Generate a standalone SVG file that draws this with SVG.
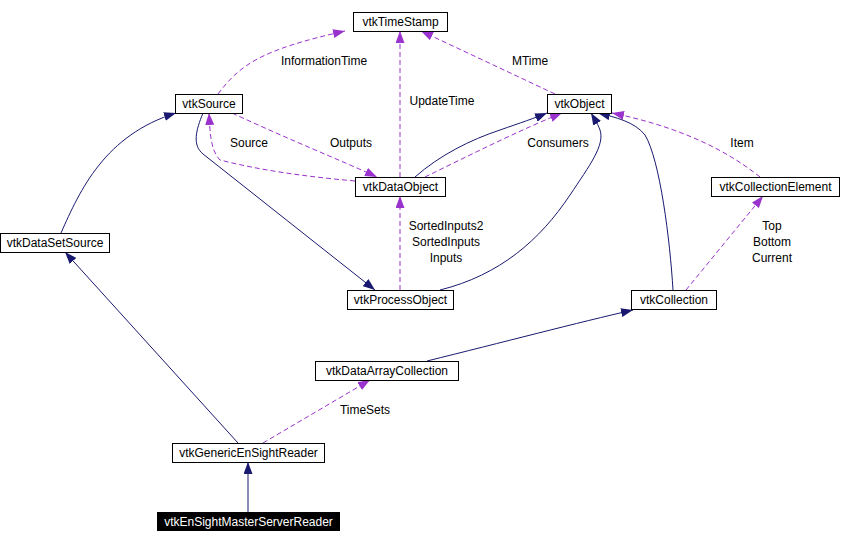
<svg xmlns="http://www.w3.org/2000/svg" width="844" height="544" viewBox="0 0 844 544">
<style>
.box{fill:#fff;stroke:#000;stroke-width:1}
.t{font-family:"Liberation Sans",Arial,sans-serif;font-size:12px;fill:#000;text-anchor:middle}
.inh{fill:none;stroke:#191970;stroke-width:1}
.use{fill:none;stroke:#9a32cd;stroke-width:1;stroke-dasharray:5,3}
.lbl{font-family:"Liberation Sans",Arial,sans-serif;font-size:12px;fill:#000;text-anchor:middle}
</style>
<defs>
<marker id="mi" viewBox="0 0 12 9" refX="12" refY="4.5" markerWidth="12" markerHeight="9" markerUnits="userSpaceOnUse" orient="auto">
<path d="M0,0 L12,4.5 L0,9 z" fill="#191970"/>
</marker>
<marker id="mu" viewBox="0 0 12 9" refX="12" refY="4.5" markerWidth="12" markerHeight="9" markerUnits="userSpaceOnUse" orient="auto">
<path d="M0,0 L12,4.5 L0,9 z" fill="#9a32cd"/>
</marker>
</defs>
<rect width="844" height="544" fill="#fff"/>
<g id="edges">
<path class="use" marker-end="url(#mu)" d="M218,94 C240,65 260,50 345,31"/>
<path class="use" marker-end="url(#mu)" d="M400,177 L400,31"/>
<path class="use" marker-end="url(#mu)" d="M555,94 L421,31"/>
<path class="use" marker-end="url(#mu)" d="M355,181 C300,176 260,170 220,160 C210,150 210,130 209,113"/>
<path class="use" marker-end="url(#mu)" d="M232,113 C290,140 340,160 377,177"/>
<path class="inh" marker-end="url(#mi)" d="M415,177 C440,155 470,140 500,130 C520,123 535,118 547,113"/>
<path class="use" marker-end="url(#mu)" d="M425,177 C470,155 520,130 562,113"/>
<path class="inh" marker-end="url(#mi)" d="M440,290 C500,275 540,240 570,195 C590,165 605,145 600,130 C597,122 594,118 591,113"/>
<path class="inh" marker-end="url(#mi)" d="M673,290 C670,240 660,160 645,135 C635,122 615,117 598,113"/>
<path class="use" marker-end="url(#mu)" d="M760,177 C720,145 670,125 612,113"/>
<path class="use" marker-end="url(#mu)" d="M686,290 L763,196"/>
<path class="inh" marker-end="url(#mi)" d="M203,113 C196,130 192,145 203,154 L375,290"/>
<path class="inh" marker-end="url(#mi)" d="M61,233 C80,190 105,135 176,113"/>
<path class="use" marker-end="url(#mu)" d="M400,290 L400,196"/>
<path class="inh" marker-end="url(#mi)" d="M427,361 C500,343 580,322 633,310"/>
<path class="inh" marker-end="url(#mi)" d="M238,443 L65,252"/>
<path class="use" marker-end="url(#mu)" d="M263,443 L370,380"/>
<path class="inh" marker-end="url(#mi)" d="M248,512 L248,462"/>
<text class="lbl" x="324" y="65">InformationTime</text>
<text class="lbl" x="442" y="105">UpdateTime</text>
<text class="lbl" x="530" y="65">MTime</text>
<text class="lbl" x="249" y="147">Source</text>
<text class="lbl" x="351" y="147">Outputs</text>
<text class="lbl" x="558" y="147">Consumers</text>
<text class="lbl" x="742" y="147">Item</text>
<text class="lbl" x="772" y="230">Top</text>
<text class="lbl" x="772" y="246">Bottom</text>
<text class="lbl" x="772" y="262">Current</text>
<text class="lbl" x="446" y="230">SortedInputs2</text>
<text class="lbl" x="446" y="246">SortedInputs</text>
<text class="lbl" x="446" y="262">Inputs</text>
<text class="lbl" x="365" y="414">TimeSets</text>
</g>
<g id="vtkTimeStamp"><rect class="box" x="353.5" y="12.5" width="94" height="19"/><text class="t" x="400.5" y="26">vtkTimeStamp</text></g>
<g id="vtkSource"><rect class="box" x="175.5" y="94.5" width="67" height="19"/><text class="t" x="209" y="108">vtkSource</text></g>
<g id="vtkObject"><rect class="box" x="547.5" y="94.5" width="64" height="19"/><text class="t" x="579.5" y="108">vtkObject</text></g>
<g id="vtkDataObject"><rect class="box" x="355.5" y="177.5" width="90" height="19"/><text class="t" x="400.5" y="191">vtkDataObject</text></g>
<g id="vtkCollectionElement"><rect class="box" x="711.5" y="177.5" width="128" height="19"/><text class="t" x="775.5" y="191">vtkCollectionElement</text></g>
<g id="vtkDataSetSource"><rect class="box" x="0.5" y="233.5" width="109" height="19"/><text class="t" x="55" y="247">vtkDataSetSource</text></g>
<g id="vtkProcessObject"><rect class="box" x="347.5" y="290.5" width="106" height="19"/><text class="t" x="400.5" y="304">vtkProcessObject</text></g>
<g id="vtkCollection"><rect class="box" x="631.5" y="290.5" width="85" height="19"/><text class="t" x="674" y="304">vtkCollection</text></g>
<g id="vtkDataArrayCollection"><rect class="box" x="315.5" y="361.5" width="143" height="19"/><text class="t" x="387" y="375">vtkDataArrayCollection</text></g>
<g id="vtkGenericEnSightReader"><rect class="box" x="172.5" y="443.5" width="152" height="19"/><text class="t" x="248.5" y="457">vtkGenericEnSightReader</text></g>
<g id="vtkEnSightMasterServerReader"><rect x="157" y="512" width="183" height="19" fill="#000"/><text class="t" x="248.5" y="526" style="fill:#fff">vtkEnSightMasterServerReader</text></g>
</svg>
